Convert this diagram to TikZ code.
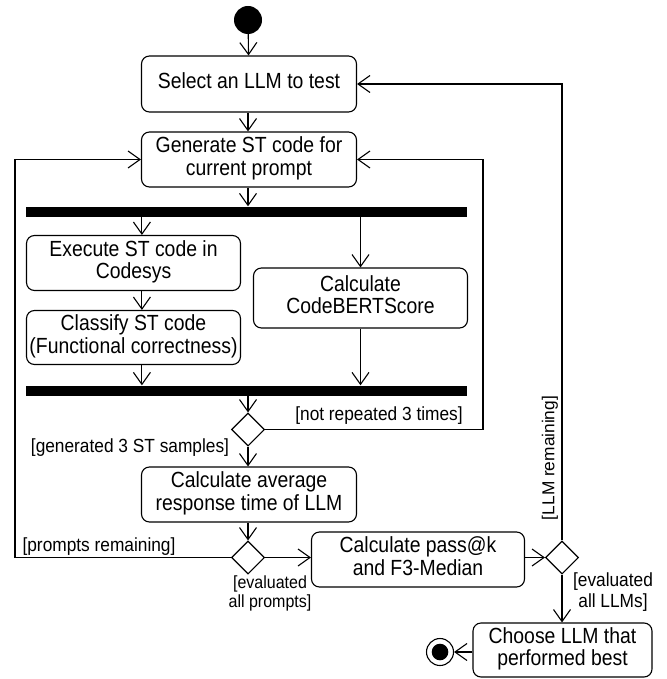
\documentclass[tikz,border=0pt]{standalone}
\usepackage{fontspec}
\usepackage{graphicx}
\setmainfont{Liberation Sans}
\usetikzlibrary{arrows.meta,shapes.geometric,calc}
\newcommand\boxtxt[1]{\scalebox{1}[1.13]{\begin{tabular}{@{}c@{}}#1\end{tabular}}}
\newcommand\grdtxt[1]{\scalebox{1}[1.1]{\begin{tabular}{@{}c@{}}#1\end{tabular}}}
\begin{document}
\begin{tikzpicture}[x=1pt,y=-1pt,
  act/.style={draw, rounded corners=8pt, line width=1.1pt, align=center, inner sep=0pt, font=\fontsize{19.4}{19.8}\selectfont},
  bar/.style={fill=black, inner sep=0pt, minimum width=441pt, minimum height=10pt},
  dec/.style={draw, diamond, aspect=1, inner sep=0pt, minimum width=33pt, minimum height=33pt, line width=1.1pt},
  flow/.style={line width=1.1pt, -{Straight Barb[length=12pt,width=17pt]}},
  guard/.style={font=\fontsize{17.3}{17.3}\selectfont, inner sep=0pt},
]
\useasboundingbox (0,0) rectangle (666,679);
\node[circle, fill=black, minimum size=28pt, inner sep=0pt] (start) at (248,20) {};
\node[act, minimum width=215pt, minimum height=56pt] (select) at (249,84) {\boxtxt{Select an LLM to test}};
\node[act, minimum width=215pt, minimum height=55pt] (gen) at (249,159.5) {\boxtxt{Generate ST code for\\current prompt}};
\node[bar] (fork) at (246,211.5) {};
\node[act, minimum width=214pt, minimum height=55pt] (exec) at (133.5,263) {\boxtxt{Execute ST code in\\Codesys}};
\node[act, minimum width=214pt, minimum height=54pt] (classify) at (133.5,337.5) {\boxtxt{Classify ST code\\(Functional correctness)}};
\node[act, minimum width=214pt, minimum height=60pt] (bert) at (360.5,298) {\boxtxt{Calculate\\CodeBERTScore}};
\node[bar] (join) at (246,390.5) {};
\node[dec] (d1) at (248,429.5) {};
\node[act, minimum width=215pt, minimum height=55pt] (avg) at (249,494.5) {\boxtxt{Calculate average\\response time of LLM}};
\node[dec] (d2) at (248,557.5) {};
\node[act, minimum width=213pt, minimum height=55pt] (pass) at (418,559.5) {\boxtxt{Calculate pass@k\\and F3-Median}};
\node[dec] (d3) at (562,557.5) {};
\node[act, minimum width=179pt, minimum height=54pt] (choose) at (562.5,650) {\boxtxt{Choose LLM that\\performed best}};
\node[circle, draw, line width=1.1pt, minimum size=27pt, inner sep=0pt] (end) at (440,652) {};
\fill (end.center) circle (8.3pt);

\coordinate (ein) at ([xshift=8.4pt]exec.north);
\coordinate (cout) at ([xshift=8.4pt]classify.south);
\coordinate (rloop) at (483,0);
\coordinate (lloop) at (15,0);

\draw[flow] (start) -- (select);
\draw[flow] (select.south -| start) -- (gen.north -| start);
\draw[flow] (gen.south -| start) -- (fork.north -| start);
\draw[flow] (ein |- fork.south) -- (ein);
\draw[flow] (bert.north |- fork.south) -- (bert.north);
\draw[flow] ([xshift=8.4pt]exec.south) -- ([xshift=8.4pt]classify.north);
\draw[flow] (cout) -- (cout |- join.north);
\draw[flow] (bert.south) -- (bert.south |- join.north);
\draw[flow] (d1.north |- join.south) -- (d1.north);
\draw[flow] (d1.east) -- (d1.east -| rloop) -- (rloop |- gen.east) -- (gen.east);
\draw[flow] (d1.south) -- (d1.south |- avg.north);
\draw[flow] (avg.south -| d2.north) -- (d2.north);
\draw[flow] (d2.west) -- (d2.west -| lloop) -- (lloop |- gen.west) -- (gen.west);
\draw[flow] (d2.east) -- (pass.west |- d2.east);
\draw[flow] (pass.east |- d3.west) -- (d3.west);
\draw[flow] (d3.north) -- (d3.north |- select.east) -- (select.east);
\draw[flow] (d3.south) -- (d3.south |- choose.north);
\draw[flow] (choose.west |- end.east) -- (end.east);

\node[guard] (lnr) at (379,416) {\grdtxt{[not repeated 3 times]}};
\node[guard] (lgen) at (130,448) {\grdtxt{[generated 3 ST samples]}};
\node[guard] (lpr) at (99,547) {\grdtxt{[prompts remaining]}};
\node[guard, font=\fontsize{16}{18}\selectfont] (lep) at (270,594) {\grdtxt{[evaluated\\all prompts]}};
\node[guard, font=\fontsize{17.3}{18.5}\selectfont] (lel) at (613,593) {\grdtxt{[evaluated\\all LLMs]}};
\node[guard, rotate=90] (llr) at (550,458) {[LLM remaining]};
\end{tikzpicture}
\end{document}
